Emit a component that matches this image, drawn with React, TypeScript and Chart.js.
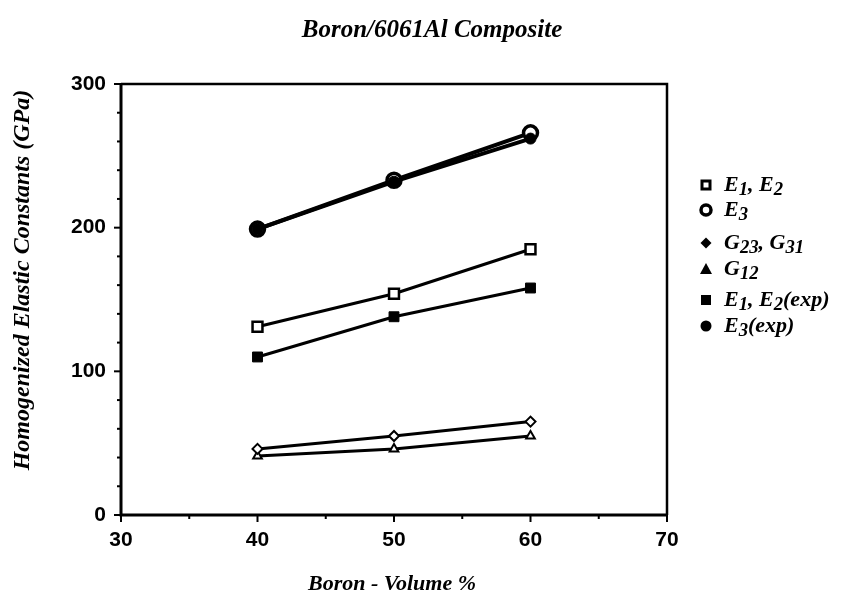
import React, { useEffect, useRef } from "react";
import { Chart, registerables } from "chart.js";

Chart.register(...registerables);

const xValues = [40, 50, 60];
const e12 = [131, 154, 185];
const e3 = [199, 233, 266];
const g2331 = [46, 55, 65];
const g12 = [41, 46, 55];
const e12exp = [110, 138, 158];
const e3exp = [199, 232, 262];

const xTickValues = [30, 40, 50, 60, 70];
const yTickValues = [0, 100, 200, 300];
const xMinorStep = 5;
const yMinorStep = 20;

const titleText = "Boron/6061Al Composite";
const xTitleText = "Boron - Volume %";
const yTitleText = "Homogenized Elastic Constants (GPa)";

type Seg = { t: string; sub?: boolean };
const legendItems: { marker: string; segs: Seg[] }[] = [
  { marker: "squareHollow", segs: [{ t: "E" }, { t: "1", sub: true }, { t: ", E" }, { t: "2", sub: true }] },
  { marker: "circleHollow", segs: [{ t: "E" }, { t: "3", sub: true }] },
  { marker: "diamond", segs: [{ t: "G" }, { t: "23", sub: true }, { t: ", G" }, { t: "31", sub: true }] },
  { marker: "triangle", segs: [{ t: "G" }, { t: "12", sub: true }] },
  { marker: "squareFilled", segs: [{ t: "E" }, { t: "1", sub: true }, { t: ", E" }, { t: "2", sub: true }, { t: "(exp)" }] },
  { marker: "circleFilled", segs: [{ t: "E" }, { t: "3", sub: true }, { t: "(exp)" }] },
];
const legendYs = [177, 202, 235, 261, 292, 318];

const SERIF = '"Liberation Serif", "DejaVu Serif", serif';
const SANS = '"Liberation Sans Narrow", "Liberation Sans", sans-serif';

const pts = (ys: number[]) => xValues.map((x, i) => ({ x, y: ys[i] }));

function drawRich(ctx: CanvasRenderingContext2D, x: number, y: number, segs: Seg[], size: number) {
  let cx = x;
  ctx.textAlign = "left";
  ctx.textBaseline = "alphabetic";
  for (const s of segs) {
    const fs = s.sub ? size * 0.85 : size;
    ctx.font = `italic bold ${fs}px ${SERIF}`;
    ctx.fillText(s.t, cx, y + (s.sub ? size * 0.2 : 0));
    cx += ctx.measureText(s.t).width;
  }
}

function drawMarker(ctx: CanvasRenderingContext2D, kind: string, x: number, y: number) {
  ctx.save();
  ctx.fillStyle = "#000";
  ctx.strokeStyle = "#000";
  ctx.beginPath();
  if (kind === "squareHollow") {
    ctx.lineWidth = 3;
    ctx.fillStyle = "#fff";
    ctx.rect(x - 4, y - 4, 8, 8);
    ctx.fill();
    ctx.stroke();
  } else if (kind === "circleHollow") {
    ctx.lineWidth = 3.5;
    ctx.arc(x, y, 5, 0, Math.PI * 2);
    ctx.stroke();
  } else if (kind === "diamond") {
    ctx.moveTo(x, y - 5.5);
    ctx.lineTo(x + 5.5, y);
    ctx.lineTo(x, y + 5.5);
    ctx.lineTo(x - 5.5, y);
    ctx.closePath();
    ctx.fill();
  } else if (kind === "triangle") {
    ctx.moveTo(x, y - 6);
    ctx.lineTo(x + 6, y + 5);
    ctx.lineTo(x - 6, y + 5);
    ctx.closePath();
    ctx.fill();
  } else if (kind === "squareFilled") {
    ctx.rect(x - 5, y - 5, 10, 10);
    ctx.fill();
  } else if (kind === "circleFilled") {
    ctx.arc(x, y, 5.5, 0, Math.PI * 2);
    ctx.fill();
  }
  ctx.restore();
}

const decorPlugin = {
  id: "decor",
  afterDraw(chart: any) {
    const ctx: CanvasRenderingContext2D = chart.ctx;
    const { left, right, top, bottom } = chart.chartArea;
    const xs = chart.scales.x;
    const ys = chart.scales.y;
    ctx.save();
    ctx.strokeStyle = "#000";
    ctx.fillStyle = "#000";
    // frame
    ctx.lineWidth = 2.5;
    ctx.beginPath();
    ctx.moveTo(left, top);
    ctx.lineTo(right, top);
    ctx.lineTo(right, bottom);
    ctx.stroke();
    ctx.lineWidth = 3;
    ctx.beginPath();
    ctx.moveTo(left, top);
    ctx.lineTo(left, bottom);
    ctx.lineTo(right, bottom);
    ctx.stroke();
    // ticks
    ctx.lineWidth = 2;
    for (let v = xs.min; v <= xs.max; v += xMinorStep) {
      const px = xs.getPixelForValue(v);
      const major = xTickValues.includes(v);
      ctx.beginPath();
      ctx.moveTo(px, bottom);
      ctx.lineTo(px, bottom + (major ? 7 : 4));
      ctx.stroke();
    }
    for (let v = ys.min; v <= ys.max; v += yMinorStep) {
      const py = ys.getPixelForValue(v);
      const major = yTickValues.includes(v);
      ctx.beginPath();
      ctx.moveTo(left, py);
      ctx.lineTo(left - (major ? 7 : 4), py);
      ctx.stroke();
    }
    // title
    ctx.textAlign = "center";
    ctx.textBaseline = "middle";
    ctx.font = `italic bold 25px ${SERIF}`;
    ctx.fillText(titleText, 424, 23);
    // x title
    ctx.font = `italic bold 22px ${SERIF}`;
    ctx.fillText(xTitleText, 384, 576);
    // y title
    ctx.save();
    ctx.translate(15, 272);
    ctx.rotate(-Math.PI / 2);
    ctx.font = `italic bold 24px ${SERIF}`;
    ctx.fillText(yTitleText, 0, 0);
    ctx.restore();
    // legend
    legendItems.forEach((it, i) => {
      const y = legendYs[i];
      drawMarker(ctx, it.marker, 698, y);
      drawRich(ctx, 716, y + 6, it.segs, 22);
    });
    ctx.restore();
  },
};

export default function App() {
  const ref = useRef<HTMLCanvasElement | null>(null);
  useEffect(() => {
    if (!ref.current) return;
    const base = { borderColor: "#000", showLine: true, fill: false, tension: 0 };
    const chart = new Chart(ref.current, {
      type: "scatter",
      data: {
        datasets: [
          { ...base, label: "E3(exp)", data: pts(e3exp), borderWidth: 4, pointStyle: "circle", pointRadius: 5.5, pointBackgroundColor: "#000", pointBorderColor: "#000", pointBorderWidth: 1, order: 1 },
          { ...base, label: "E3", data: pts(e3), borderWidth: 4, pointStyle: "circle", pointRadius: 7, pointBackgroundColor: "#fff", pointBorderColor: "#000", pointBorderWidth: 3.5, order: 2 },
          { ...base, label: "E1, E2", data: pts(e12), borderWidth: 3, pointStyle: "rect", pointRadius: 7, pointBackgroundColor: "#fff", pointBorderColor: "#000", pointBorderWidth: 2.5, order: 3 },
          { ...base, label: "E1, E2(exp)", data: pts(e12exp), borderWidth: 3, pointStyle: "rect", pointRadius: 7, pointBackgroundColor: "#000", pointBorderColor: "#000", pointBorderWidth: 1, order: 4 },
          { ...base, label: "G23, G31", data: pts(g2331), borderWidth: 3, pointStyle: "rectRot", pointRadius: 5, pointBackgroundColor: "#fff", pointBorderColor: "#000", pointBorderWidth: 2, order: 5 },
          { ...base, label: "G12", data: pts(g12), borderWidth: 3, pointStyle: "triangle", pointRadius: 5, pointBackgroundColor: "#fff", pointBorderColor: "#000", pointBorderWidth: 2, order: 6 },
        ],
      },
      options: {
        animation: false,
        responsive: false,
        layout: { padding: { left: 8, top: 76, right: 167, bottom: 0 } },
        plugins: { legend: { display: false }, tooltip: { enabled: false }, title: { display: false } },
        scales: {
          x: {
            type: "linear",
            min: 30,
            max: 70,
            afterBuildTicks: (s: any) => { s.ticks = xTickValues.map((v) => ({ value: v })); },
            afterFit: (s: any) => { s.height = 91; },
            ticks: { color: "#000", font: { family: SANS, weight: "bold", size: 21 }, padding: 6, maxRotation: 0 },
            grid: { display: true, drawOnChartArea: false, drawTicks: true, tickLength: 7, color: "transparent", tickColor: "transparent" },
            border: { display: false },
          },
          y: {
            type: "linear",
            min: 0,
            max: 300,
            afterBuildTicks: (s: any) => { s.ticks = yTickValues.map((v) => ({ value: v })); },
            afterFit: (s: any) => { s.width = 105; },
            ticks: { color: "#000", font: { family: SANS, weight: "bold", size: 21 }, padding: 8 },
            grid: { display: true, drawOnChartArea: false, drawTicks: true, tickLength: 7, color: "transparent", tickColor: "transparent" },
            border: { display: false },
          },
        },
      },
      plugins: [decorPlugin],
    } as any);
    return () => chart.destroy();
  }, []);
  return (
    <div style={{ width: 826, height: 598, background: "#fff" }}>
      <canvas ref={ref} width={826} height={598} />
    </div>
  );
}
